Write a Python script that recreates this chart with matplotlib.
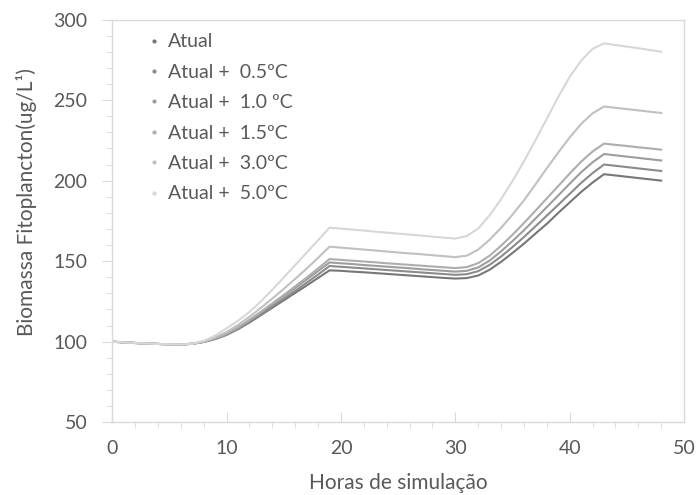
import matplotlib
matplotlib.use("Agg")
import matplotlib.pyplot as plt
from matplotlib.ticker import MultipleLocator
from matplotlib.lines import Line2D

plt.rcParams['font.family'] = ['Lato', 'DejaVu Sans']

horas = list(range(0, 49))

atual = [100.0, 99.6, 99.2, 98.9, 98.6, 98.4, 98.3, 98.7,
         99.8, 101.6, 104.2, 107.8, 111.9, 116.5, 121.1, 125.7, 130.3, 134.9, 139.6, 144.3,
         144.0, 143.5, 143.1, 142.6, 142.1, 141.6, 141.1, 140.6, 140.1, 139.6,
         139.2, 139.5, 141.1, 144.7, 149.6, 155.1, 160.9, 167.1, 173.2, 180.0, 186.5, 193.0, 198.8,
         204.0, 203.2, 202.4, 201.6, 200.8, 200.0]
atual_05 = [100.0, 99.6, 99.2, 98.9, 98.6, 98.4, 98.3, 98.7,
            99.9, 101.8, 104.5, 108.2, 112.5, 117.1, 121.9, 126.7, 131.6, 136.6, 141.7, 147.0,
            146.5, 146.0, 145.5, 145.0, 144.5, 144.0, 143.5, 143.0, 142.5, 142.0,
            141.5, 141.9, 143.8, 147.7, 152.9, 158.8, 165.0, 171.6, 178.3, 185.0, 191.8, 198.6, 204.7,
            210.0, 209.2, 208.4, 207.6, 206.8, 206.0]
atual_10 = [100.0, 99.6, 99.2, 98.9, 98.6, 98.4, 98.3, 98.7,
            100.0, 102.0, 104.8, 108.6, 113.2, 118.1, 123.1, 128.2, 133.4, 138.6, 143.9, 149.2,
            148.7, 148.2, 147.6, 147.1, 146.6, 146.1, 145.6, 145.0, 144.5, 144.0,
            143.5, 144.0, 146.1, 150.4, 156.1, 162.5, 169.2, 176.4, 183.6, 190.8, 198.1, 205.2, 211.4,
            216.5, 215.7, 214.9, 214.1, 213.3, 212.5]
atual_15 = [100.0, 99.6, 99.2, 98.9, 98.6, 98.4, 98.3, 98.7,
            100.0, 102.1, 105.0, 109.0, 113.6, 118.6, 123.8, 129.0, 134.4, 139.8, 145.5, 151.3,
            150.8, 150.3, 149.8, 149.3, 148.7, 148.2, 147.7, 147.2, 146.7, 146.2,
            145.7, 146.3, 148.8, 153.4, 159.6, 166.4, 173.7, 181.3, 189.0, 196.7, 204.4, 211.8, 218.1,
            223.0, 222.2, 221.5, 220.7, 220.0, 219.2]
atual_30 = [100.0, 99.6, 99.2, 98.9, 98.6, 98.4, 98.3, 98.7,
            100.2, 102.7, 106.0, 110.4, 115.5, 121.0, 126.8, 132.8, 139.0, 145.4, 152.1, 159.0,
            158.4, 157.8, 157.2, 156.6, 156.0, 155.4, 154.8, 154.3, 153.7, 153.1,
            152.5, 153.4, 157.2, 163.3, 170.7, 178.9, 187.8, 197.6, 207.7, 217.5, 226.8, 235.2, 241.8,
            246.0, 245.2, 244.4, 243.6, 242.8, 242.0]
atual_50 = [100.0, 99.6, 99.2, 98.9, 98.6, 98.4, 98.3, 98.7,
            100.5, 103.8, 108.3, 113.0, 118.5, 125.0, 132.3, 139.9, 147.6, 155.3, 163.0, 170.8,
            170.2, 169.6, 169.0, 168.3, 167.7, 167.1, 166.5, 165.9, 165.2, 164.6,
            164.0, 165.6, 170.3, 178.5, 188.5, 199.8, 212.0, 225.0, 238.5, 252.0, 264.5, 274.5, 281.8,
            285.2, 284.2, 283.2, 282.2, 281.1, 280.0]

series_labels = ["Atual", "Atual +  0.5ºC", "Atual +  1.0 ºC", "Atual +  1.5ºC",
                 "Atual +  3.0ºC", "Atual +  5.0ºC"]
series_values = [atual, atual_05, atual_10, atual_15, atual_30, atual_50]
colors = ["#777777", "#8b8b8b", "#9d9d9d", "#adadad", "#c0c0c0", "#d7d7d7"]

txt = "#595959"
grid = "#d9d9d9"

fig = plt.figure(figsize=(6.97, 4.95), dpi=100)
ax = fig.add_axes([0.161, 0.147, 0.8205, 0.8135])

for vals, lab, c in zip(series_values, series_labels, colors):
    ax.plot(horas, vals, color=c, lw=1.5, label=lab, solid_joinstyle='round')

ax.set_xlim(0, 50)
ax.set_ylim(50, 300)
ax.xaxis.set_major_locator(MultipleLocator(10))
ax.xaxis.set_minor_locator(MultipleLocator(2))
ax.yaxis.set_major_locator(MultipleLocator(50))
ax.yaxis.set_minor_locator(MultipleLocator(10))

for s in ax.spines.values():
    s.set_color(grid)
    s.set_linewidth(1.0)

ax.tick_params(axis='x', which='major', direction='in', length=7, color=grid,
               labelsize=14, labelcolor=txt, pad=13)
ax.tick_params(axis='x', which='minor', direction='out', length=4, color=grid)
ax.tick_params(axis='y', which='major', direction='out', length=7, color=grid,
               labelsize=14, labelcolor=txt, pad=11)
ax.tick_params(axis='y', which='minor', direction='out', length=4, color=grid)

ax.set_xlabel("Horas de simulação", fontsize=15, color=txt)
ax.set_ylabel("Biomassa Fitoplancton(ug/L¹)", fontsize=15, color=txt)
ax.xaxis.set_label_coords(0.5, -0.126)
ax.yaxis.set_label_coords(-0.131, 0.548)

handles = [Line2D([], [], color=c, marker='o', markersize=2, linestyle='None') for c in colors]
leg = ax.legend(handles, series_labels, loc='upper left', bbox_to_anchor=(0.043, 0.997),
                frameon=False, fontsize=14, labelcolor=txt, handlelength=0.5,
                handletextpad=0.45, labelspacing=0.69, borderaxespad=0.25)

fig.savefig("out.png", dpi=100)
